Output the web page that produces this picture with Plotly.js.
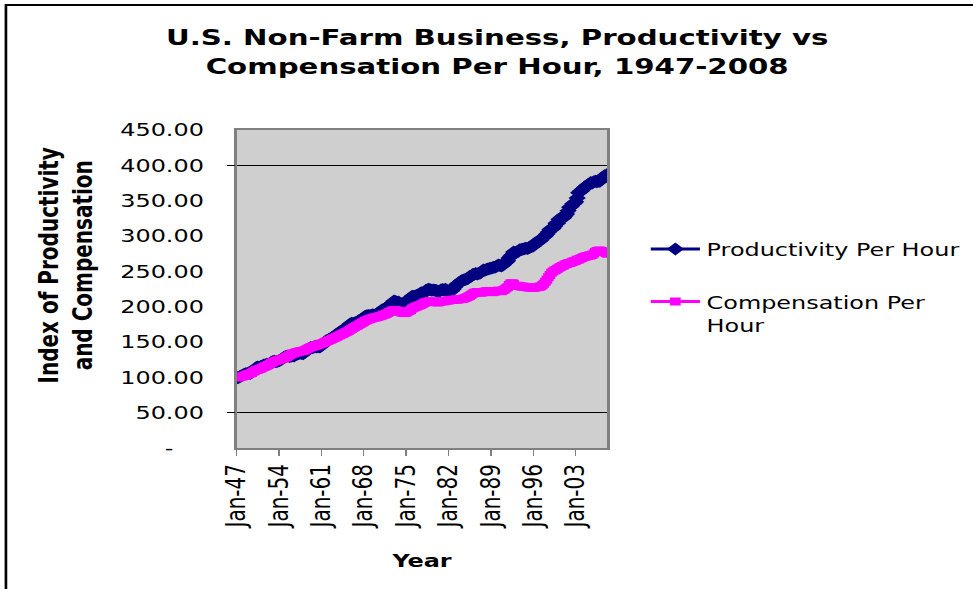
<!DOCTYPE html>
<html>
<head>
<meta charset="utf-8">
<script src="https://cdn.plot.ly/plotly-3.0.1.min.js"></script>
<style>
  html, body { margin: 0; padding: 0; background: #ffffff; overflow: hidden; }
  #wrap { width: 973px; height: 589px; overflow: hidden; position: relative; }
  #chart { width: 732px; height: 589px; transform: scale(1.32923, 1); transform-origin: 0 0; }
</style>
</head>
<body>
<div id="wrap"><div id="chart"></div></div>
<script>
// Quarterly series, 1947 Q1 .. 2008 Q2 (index, 1947 Q1 = 100)
const startYear = 1947;
const productivity = [
  100.0, 99.5, 100.8, 101.9,
  103.0, 104.4, 104.9, 105.3,
  106.0, 105.4, 107.2, 108.6,
  111.5, 113.8, 114.6, 114.2,
  115.3, 116.1, 117.4, 117.9,
  118.6, 118.2, 119.7, 121.4,
  122.3, 122.8, 122.1, 122.7,
  123.5, 124.6, 125.9, 127.8,
  129.2, 129.7, 130.1, 129.6,
  129.8, 130.5, 130.2, 131.9,
  133.1, 133.4, 134.5, 133.8,
  133.2, 135.1, 137.9, 139.8,
  140.6, 142.3, 141.7, 142.5,
  143.9, 143.1, 143.6, 142.9,
  144.8, 147.6, 149.3, 151.4,
  152.3, 153.5, 155.1, 155.8,
  157.2, 158.9, 160.8, 161.5,
  164.1, 165.3, 166.2, 167.4,
  169.8, 170.5, 172.9, 175.3,
  176.4, 176.1, 176.9, 177.5,
  178.9, 180.4, 181.6, 182.1,
  184.7, 186.3, 187.1, 187.5,
  187.3, 187.9, 188.6, 187.8,
  188.2, 189.6, 192.1, 191.4,
  195.3, 196.1, 197.2, 198.4,
  199.6, 201.8, 203.5, 205.7,
  207.9, 207.3, 206.1, 206.5,
  204.2, 203.8, 202.9, 202.4,
  205.1, 208.3, 211.2, 212.4,
  214.6, 214.3, 215.1, 215.8,
  216.7, 217.9, 219.8, 218.6,
  219.4, 222.8, 223.9, 224.6,
  224.1, 223.2, 223.6, 223.1,
  222.9, 220.6, 221.8, 223.5,
  224.4, 223.6, 224.5, 222.7,
  221.5, 222.8, 222.3, 224.7,
  227.6, 230.4, 232.1, 233.8,
  235.6, 237.2, 237.9, 238.4,
  239.3, 240.1, 242.6, 243.2,
  245.4, 245.9, 246.8, 246.3,
  246.9, 247.8, 249.6, 251.8,
  251.4, 252.7, 253.2, 254.1,
  254.3, 254.9, 255.8, 256.2,
  257.4, 258.9, 258.3, 257.6,
  258.8, 261.3, 262.7, 264.9,
  268.7, 271.2, 273.6, 277.4,
  276.8, 277.5, 277.9, 280.6,
  280.9, 281.2, 281.8, 282.7,
  282.4, 283.1, 284.6, 285.3,
  285.9, 289.6, 290.4, 291.8,
  292.5, 294.2, 297.3, 298.6,
  300.4, 302.7, 305.6, 309.1,
  309.8, 310.6, 313.4, 318.2,
  317.9, 323.6, 324.4, 326.8,
  325.9, 328.7, 331.2, 335.6,
  340.8, 341.9, 345.3, 345.9,
  348.6, 353.9, 361.2, 363.5,
  364.1, 366.8, 368.9, 370.4,
  372.6, 372.9, 375.6, 375.1,
  376.8, 377.5, 376.9, 377.3,
  377.6, 379.8, 382.9, 385.1,
  384.2, 387.5
];
const compensation = [
  100.0, 99.8, 100.4, 100.9,
  101.6, 102.3, 102.8, 103.9,
  104.8, 105.6, 106.2, 107.9,
  109.1, 110.4, 110.9, 111.8,
  112.4, 113.6, 114.8, 115.7,
  116.5, 117.3, 118.9, 120.4,
  121.6, 122.5, 123.2, 124.1,
  124.7, 125.3, 125.9, 126.7,
  127.6, 128.8, 130.1, 131.4,
  132.5, 133.6, 134.2, 135.1,
  135.7, 136.2, 136.8, 137.1,
  137.5, 138.1, 139.3, 140.6,
  141.6, 142.7, 143.2, 143.9,
  144.6, 145.3, 146.1, 146.8,
  147.5, 148.6, 149.4, 150.3,
  151.5, 152.4, 153.1, 154.2,
  155.3, 156.1, 157.2, 158.3,
  159.4, 160.5, 161.3, 162.6,
  163.7, 164.5, 165.8, 167.3,
  168.6, 169.9, 171.2, 172.4,
  173.5, 174.8, 175.9, 177.1,
  178.6, 179.8, 180.9, 181.7,
  182.4, 183.2, 184.1, 184.6,
  184.9, 185.3, 186.2, 186.7,
  187.5, 188.6, 189.1, 189.9,
  191.2, 192.4, 193.6, 194.5,
  195.1, 194.8, 194.3, 193.7,
  192.6, 191.8, 191.2, 190.9,
  191.6, 192.8, 193.9, 195.2,
  197.3, 198.6, 199.4, 200.3,
  201.2, 202.1, 202.9, 204.2,
  205.3, 206.4, 206.9, 207.3,
  207.6, 207.1, 206.8, 206.5,
  206.4, 205.9, 206.7, 207.4,
  207.8, 207.5, 208.1, 208.6,
  208.9, 209.3, 209.7, 209.5,
  209.8, 210.2, 210.1, 210.6,
  210.9, 210.7, 211.4, 212.3,
  213.2, 214.1, 215.3, 216.8,
  218.4, 219.6, 220.2, 220.8,
  220.3, 219.8, 220.1, 220.6,
  221.3, 221.8, 222.1, 221.6,
  220.9, 220.5, 221.2, 221.8,
  222.1, 222.7, 222.3, 221.9,
  223.1, 224.4, 225.9, 227.6,
  230.8, 232.9, 233.2, 232.4,
  229.6, 229.2, 229.5, 229.1,
  228.7, 228.3, 228.1, 227.9,
  227.6, 227.2, 227.4, 226.9,
  226.5, 227.1, 227.3, 227.8,
  228.2, 228.9, 230.3, 232.6,
  235.4, 238.2, 241.6, 244.8,
  247.9, 249.6, 251.2, 252.4,
  253.8, 254.9, 256.3, 257.6,
  258.4, 259.7, 260.5, 261.3,
  261.9, 262.6, 263.4, 264.2,
  265.1, 266.3, 266.9, 267.8,
  268.9, 270.1, 270.6, 271.2,
  271.7, 272.3, 272.8, 273.6,
  275.4, 277.2, 278.6, 279.1,
  279.4, 278.6, 277.8, 277.2,
  276.1, 274.9
];
const yTickValues = [0, 50, 100, 150, 200, 250, 300, 350, 400, 450];
const yTickLabels = ['-\u00a0\u00a0\u00a0\u00a0', '50.00', '100.00', '150.00', '200.00', '250.00', '300.00', '350.00', '400.00', '450.00'];
const gridValues = [50, 400];
const seriesNames = ['Productivity Per Hour', 'Compensation Per<br>Hour'];

// quarter start dates as the category axis
const quarters = productivity.map((_, i) => {
  const y = startYear + Math.floor(i / 4);
  const m = (i % 4) * 3 + 1;
  return y + '-' + String(m).padStart(2, '0') + '-01';
});

const FONT = 'DejaVu Sans, Verdana, sans-serif';

const traces = [
  {
    x: quarters, y: productivity, name: seriesNames[0], type: 'scatter', mode: 'lines+markers',
    line: { color: '#000080', width: 3 },
    marker: { symbol: 'diamond', size: 10, color: '#000080' },
    legend: 'legend'
  },
  {
    x: quarters, y: compensation, name: seriesNames[1], type: 'scatter', mode: 'lines+markers',
    line: { color: '#FF00FF', width: 3 },
    marker: { symbol: 'square', size: 8, color: '#FF00FF' },
    legend: 'legend2'
  },
  {
    x: [quarters[0]], y: [null], yaxis: 'y2', showlegend: false, hoverinfo: 'skip',
    type: 'scatter', mode: 'lines'
  }
];

const layout = {
  width: 732, height: 589,
  margin: { l: 177.5, r: 275.3, t: 130, b: 141, pad: 0 },
  paper_bgcolor: '#ffffff',
  plot_bgcolor: '#CFCFCF',
  font: { family: FONT, color: '#000000', size: 18 },
  title: {
    text: 'U.S. Non-Farm Business, Productivity vs<br>Compensation Per Hour, 1947-2008',
    font: { family: FONT, size: 22, weight: 'bold', color: '#000000' },
    xref: 'container', x: 0.511, xanchor: 'center',
    yref: 'container', y: 0.923, yanchor: 'top'
  },
  xaxis: {
    type: 'date',
    range: ['1947-01-01', '2008-04-01'],
    tick0: '1947-01-01', dtick: 'M84', tickformat: '%b-%y',
    tickangle: -90,
    tickfont: { family: FONT, size: 20, color: '#000000' },
    ticks: 'outside', ticklen: 6, tickcolor: '#808080', tickwidth: 1,
    showgrid: false, zeroline: false,
    showline: true, linecolor: '#808080', linewidth: 2, mirror: true,
    title: { text: 'Year', font: { family: FONT, size: 18, weight: 'bold' }, standoff: 26 },
    automargin: false
  },
  yaxis: {
    range: [0, 450],
    tickmode: 'array', tickvals: yTickValues, ticktext: yTickLabels,
    tickfont: { family: FONT, size: 18, color: '#000000' },
    ticks: 'outside', ticklen: 19, tickcolor: 'rgba(0,0,0,0)',
    showgrid: false, zeroline: false,
    showline: true, linecolor: '#808080', linewidth: 2, mirror: true,
    automargin: false
  },
  yaxis2: {
    overlaying: 'y', side: 'left', range: [0, 450],
    tickmode: 'array', tickvals: gridValues,
    showticklabels: false, ticks: 'outside', ticklen: 6, tickcolor: '#000000', tickwidth: 1,
    showgrid: true, gridcolor: '#000000', gridwidth: 1,
    zeroline: false, showline: false, automargin: false
  },
  legend: {
    xref: 'container', yref: 'container',
    x: 0.662, xanchor: 'left', y: 0.608, yanchor: 'top',
    bgcolor: 'rgba(0,0,0,0)', borderwidth: 0, itemwidth: 37,
    font: { family: FONT, size: 18, color: '#000000' }
  },
  legend2: {
    xref: 'container', yref: 'container',
    x: 0.662, xanchor: 'left', y: 0.519, yanchor: 'top',
    bgcolor: 'rgba(0,0,0,0)', borderwidth: 0, valign: 'top', itemwidth: 37,
    font: { family: FONT, size: 18, color: '#000000' }
  },
  annotations: [{
    text: 'Index of Productivity<br>and Compensation',
    textangle: -90, showarrow: false,
    xref: 'paper', yref: 'paper', x: -0.4606, y: 0.5755,
    xanchor: 'center', yanchor: 'middle',
    font: { family: FONT, size: 20, weight: 'bold', color: '#000000' }
  }],
  shapes: [{
    type: 'rect', xref: 'paper', yref: 'paper',
    x0: -0.622, x1: 3, y0: -2, y1: 1.393,
    line: { color: '#000000', width: 2 }, fillcolor: 'rgba(0,0,0,0)', layer: 'above'
  }],
  showlegend: true
};

Plotly.newPlot('chart', traces, layout, { displayModeBar: false, staticPlot: true });
</script>
</body>
</html>
